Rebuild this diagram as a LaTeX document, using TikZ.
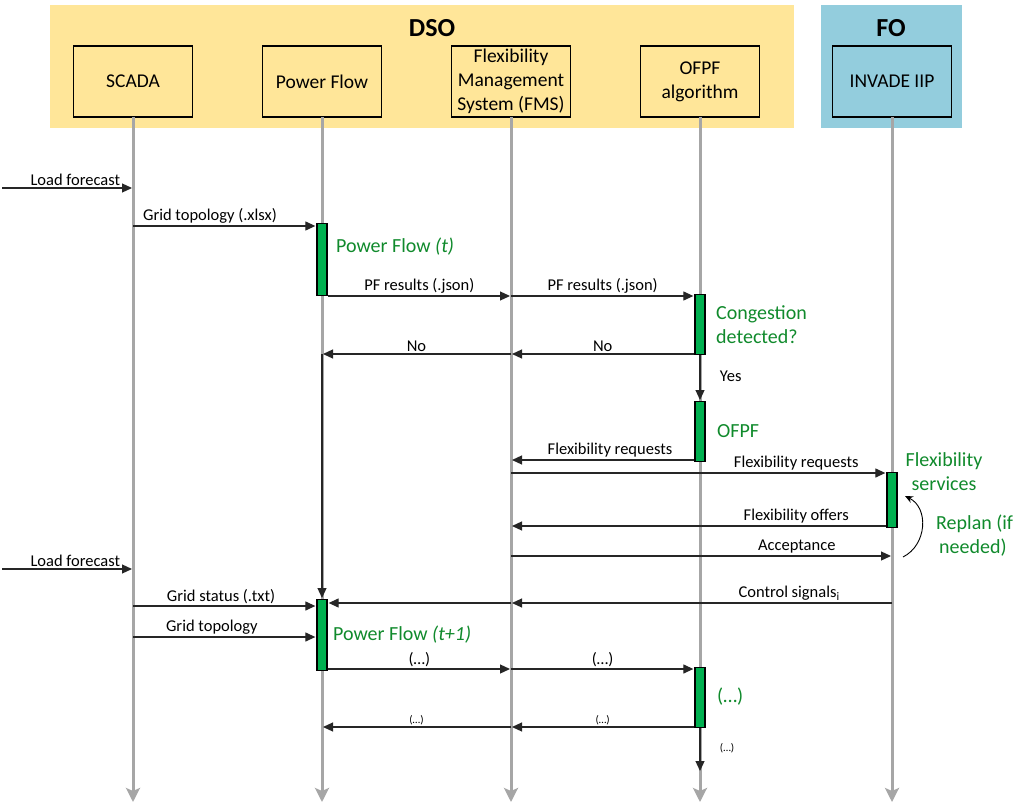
\documentclass[tikz,border=0pt]{standalone}
\usepackage{fontspec}
\setmainfont{Carlito}
\usetikzlibrary{arrows.meta,positioning}
\definecolor{dsoBg}{HTML}{FFE699}
\definecolor{foBg}{HTML}{93CDDD}
\definecolor{barGreen}{HTML}{00B050}
\definecolor{txtGreen}{HTML}{108A2C}
\definecolor{lifeGray}{HTML}{A6A6A6}
\tikzset{
  actor/.style={rectangle, draw=black, line width=1.6pt, outer sep=0pt, minimum width=119pt, minimum height=71pt, inner ysep=1pt, align=center, font=\fontsize{19.5}{24}\selectfont},
  lifeline/.style={draw=lifeGray, line width=3pt, -{Stealth[length=14pt, width=14pt, inset=3pt]}},
  msg/.style={-{Triangle[length=10pt, width=9pt]}, line width=1.2pt, draw=black!85, shorten >=1pt},
  actbar/.style={rectangle, draw=black, line width=1.3pt, fill=barGreen, minimum width=10pt, inner sep=0pt},
  lbl/.style={above, inner sep=2pt, font=\fontsize{16.5}{19}\selectfont},
  slbl/.style={above, inner sep=1.5pt, font=\fontsize{11}{13}\selectfont},
  side/.style={right, xshift=16pt, yshift=2pt, font=\fontsize{16.5}{19}\selectfont},
  note/.style={text=txtGreen, align=left, inner sep=0pt, font=\fontsize{20}{24}\selectfont},
  title/.style={font=\fontsize{26}{30}\selectfont\bfseries},
  replan/.style={-{Stealth[length=8pt, width=7pt]}, line width=0.9pt, draw=black}
}
\begin{document}
\begin{tikzpicture}[x=1pt, y=-1pt, node distance=70pt]
\useasboundingbox (0,0) rectangle (1030,805);
\node[fill=dsoBg, minimum width=744pt, minimum height=123pt, anchor=north west, inner sep=0pt] (dsobg) at (50,5) {};
\node[fill=foBg, minimum width=141pt, minimum height=123pt, anchor=north west, inner sep=0pt] (fobg) at (821,5) {};
\node[title] (dso) at (432,28) {DSO};
\node[title] (fo) at (891,28) {FO};

\node[actor] (scada) at (133,81.5) {SCADA};
\node[actor, right=of scada] (pf) {Power Flow};
\node[actor, right=of pf] (fms) {Flexibility\\Management\\System (FMS)};
\node[actor, right=of fms] (ofpf) {OFPF\\algorithm};
\node[actor, right=73pt of ofpf] (iip) {INVADE IIP};

\foreach \n/\y in {lf1/188, gt1/226, pfr/296, no/354, fr1/460, fr2/473, foff/526, acc/556, lf2/569, cs/603, gs/606, gt2/637, d1/669, d2/727, endc/772, bottom/802}
  \coordinate (\n) at (0,\y);
\coordinate (lfin1) at (2,188);
\coordinate (lfin2) at (2,569);
\coordinate (replanA) at (903,557);
\coordinate (replanB) at (905,496);

\foreach \n in {scada,pf,fms,ofpf,iip}
  \draw[lifeline] (\n.south) -- (\n |- bottom);

\node[actbar, minimum height=72pt, anchor=north] (pfbar1) at (pf |- 0,223) {};
\node[actbar, minimum height=60pt, anchor=north] (ofpfbar1) at (ofpf |- 0,294) {};
\node[actbar, minimum height=60pt, anchor=north] (ofpfbar2) at (ofpf |- 0,401) {};
\node[actbar, minimum height=55pt, anchor=north] (iipbar) at (iip |- 0,472) {};
\node[actbar, minimum height=71pt, anchor=north] (pfbar2) at (pf |- 0,599) {};
\node[actbar, minimum height=60pt, anchor=north] (ofpfbar3) at (ofpf |- 0,667) {};

\node[note, anchor=west] (pfnote1) at (336,247) {Power Flow \textit{(t)}};
\node[note, anchor=west] (congnote) at (716,325) {Congestion\\detected?};
\node[note, anchor=west] (ofpfnote) at (717,431) {OFPF};
\node[note, align=center] (flexnote) at (944,472) {Flexibility\\services};
\node[note, anchor=west] (replannote) at (936,536) {Replan (if\\\hspace*{3pt}needed)};
\node[note, anchor=west] (pfnote2) at (333,635) {Power Flow \textit{(t+1)}};
\node[note, anchor=west] (dotsnote) at (717,697) {(…)};

\draw[msg] (lfin1) -- node[lbl, pos=0.56] {Load forecast} (scada |- lf1);
\draw[msg] (scada |- gt1) -- node[lbl, pos=0.42] {Grid topology (.xlsx)} (pfbar1.west |- gt1);
\draw[msg] (pfbar1.east |- pfr) -- node[lbl] {PF results (.json)} (fms |- pfr);
\draw[msg] (fms |- pfr) -- node[lbl] {PF results (.json)} (ofpfbar1.west |- pfr);
\draw[msg] (ofpfbar1.west |- no) -- node[lbl] {No} (fms |- no);
\draw[msg] (fms |- no) -- node[lbl] {No} (pf |- no);
\draw[msg] (pf |- no) -- (pfbar2.north);
\draw[msg] (ofpfbar1.south) -- node[side] {Yes} (ofpfbar2.north);
\draw[msg] (ofpfbar2.west |- fr1) -- node[lbl, pos=0.46] {Flexibility requests} (fms |- fr1);
\draw[msg] (fms |- fr2) -- node[lbl, pos=0.76] {Flexibility requests} (iipbar.west |- fr2);
\draw[msg] (iipbar.west |- foff) -- node[lbl, pos=0.24] {Flexibility offers} (fms |- foff);
\draw[msg] (fms |- acc) -- node[lbl, pos=0.75] {Acceptance} (iip |- acc);
\draw[replan] (replanA) .. controls +(24,-12) and +(24,12) .. (replanB);
\draw[msg] (lfin2) -- node[lbl, pos=0.56] {Load forecast} (scada |- lf2);
\draw[msg] (scada |- gs) -- node[lbl, pos=0.48] {Grid status (.txt)} (pfbar2.west |- gs);
\draw[msg] (iip |- cs) -- node[lbl, pos=0.27] {Control signals\textsubscript{i}} (fms |- cs);
\draw[msg] (fms |- cs) -- (pfbar2.east |- cs);
\draw[msg] (scada |- gt2) -- node[lbl, pos=0.43] {Grid topology} (pfbar2.west |- gt2);
\draw[msg] (pfbar2.east |- d1) -- node[lbl] {(…)} (fms |- d1);
\draw[msg] (fms |- d1) -- node[lbl] {(…)} (ofpfbar3.west |- d1);
\draw[msg] (ofpfbar3.west |- d2) -- node[slbl] {(…)} (fms |- d2);
\draw[msg] (fms |- d2) -- node[slbl] {(…)} (pf |- d2);
\draw[msg] (ofpfbar3.south) -- node[side, font=\fontsize{11}{13}\selectfont] {(…)} (ofpf |- endc);
\end{tikzpicture}
\end{document}
